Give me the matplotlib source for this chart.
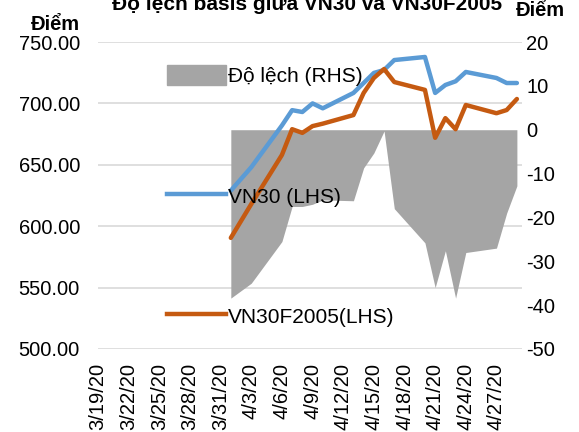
import datetime as dt
import matplotlib
matplotlib.use("Agg")
import matplotlib.pyplot as plt
import matplotlib.patches as mpatches
from matplotlib.lines import Line2D

plt.rcParams['font.family'] = ['Liberation Sans', 'DejaVu Sans']
plt.rcParams['axes.unicode_minus'] = False

# trading days in April 2020
dates = ["2020-04-01", "2020-04-03", "2020-04-06", "2020-04-07", "2020-04-08",
         "2020-04-09", "2020-04-10", "2020-04-13", "2020-04-14", "2020-04-15",
         "2020-04-16", "2020-04-17", "2020-04-20", "2020-04-21", "2020-04-22",
         "2020-04-23", "2020-04-24", "2020-04-27", "2020-04-28", "2020-04-29"]
vn30 = [629, 648, 682, 694.5, 693, 700, 696, 708.5, 716.6, 724.8,
        727.2, 735.3, 737.8, 708.5, 715, 718, 725.6, 720.7, 716.6, 716.6]
vn30f = [590.5, 618, 658, 679, 676, 681.5, 683.5, 690.5, 708.5, 720.7,
         728, 717.4, 711, 672, 688, 679, 698.7, 692, 694.6, 703.6]
basis = [-38.4, -35, -25.5, -17.5, -17.5, -17, -16, -16.2, -8.7, -5.3,
         -0.3, -18, -25.8, -36, -27.6, -38.4, -28, -27, -19, -12.8]

tick_days = ["2020-03-19", "2020-03-22", "2020-03-25", "2020-03-28", "2020-03-31",
             "2020-04-03", "2020-04-06", "2020-04-09", "2020-04-12", "2020-04-15",
             "2020-04-18", "2020-04-21", "2020-04-24", "2020-04-27"]

x = [dt.datetime.fromisoformat(d) for d in dates]
xt = [dt.datetime.fromisoformat(d) for d in tick_days]
xt_labels = [f"{d.month}/{d.day}/{d.year % 100}" for d in xt]

blue = '#5B9BD5'
orange = '#C55A11'
grey = '#A5A5A5'
fs = 14.5

fig = plt.figure(figsize=(5.79, 4.32), dpi=100)
pos = [98 / 579, 1 - 349 / 432, (522 - 98) / 579, (349 - 42) / 432]

# bottom axes: left scale, gridlines
ax = fig.add_axes(pos)
ax.set_ylim(500, 750)
ax.set_yticks([500, 550, 600, 650, 700, 750])
ax.set_yticklabels([f"{v:.2f}" for v in ax.get_yticks()])
ax.grid(axis='y', color='#D9D9D9', linewidth=1.2)
ax.set_axisbelow(True)

# middle axes: basis area on right scale
ax2 = ax.twinx()
ax2.fill_between(x, basis, 0, color=grey, linewidth=0)
ax2.set_ylim(-50, 20)
ax2.set_yticks(range(-50, 21, 10))

# top axes: price lines on left scale
ax3 = ax.twinx()
ax3.plot(x, vn30, color=blue, lw=3.2, solid_capstyle='round')
ax3.plot(x, vn30f, color=orange, lw=3.2, solid_capstyle='round')
ax3.set_ylim(ax.get_ylim())
ax3.set_yticks([])

xmin = dt.datetime(2020, 3, 19)
xmax = dt.datetime(2020, 4, 29, 12)
for a in (ax, ax2, ax3):
    a.set_xlim(xmin, xmax)
    for s in a.spines.values():
        s.set_visible(False)

ax.set_xticks(xt)
ax.set_xticklabels(xt_labels, rotation=90)
ax.tick_params(axis='x', length=0, pad=10, labelsize=fs)
ax.tick_params(axis='y', length=0, pad=13, labelsize=fs)
ax2.tick_params(axis='y', length=0, pad=3, labelsize=fs)
ax3.tick_params(length=0)

handles = [mpatches.Patch(color=grey, label='Độ lệch (RHS)'),
           Line2D([], [], color=blue, lw=3.2, label='VN30 (LHS)'),
           Line2D([], [], color=orange, lw=3.2, label='VN30F2005(LHS)')]
fig.legend(handles=handles, loc='upper left', bbox_to_anchor=(157 / 579, 1 - 55 / 432),
           frameon=False, fontsize=15, labelspacing=4.75, handlelength=2.8,
           handleheight=1.1, handletextpad=0.1, borderpad=0)

fig.text(307 / 579, 1 - 10 / 432, 'Độ lệch basis giữa VN30 và VN30F2005',
         ha='center', va='baseline', fontsize=15, fontweight='bold')
fig.text(80 / 579, 1 - 30 / 432, 'Điểm', ha='right', va='baseline',
         fontsize=fs, fontweight='bold')
fig.text(516 / 579, 1 - 16 / 432, 'Điểm', ha='left', va='baseline',
         fontsize=fs, fontweight='bold')

fig.savefig('out.png', dpi=100)
